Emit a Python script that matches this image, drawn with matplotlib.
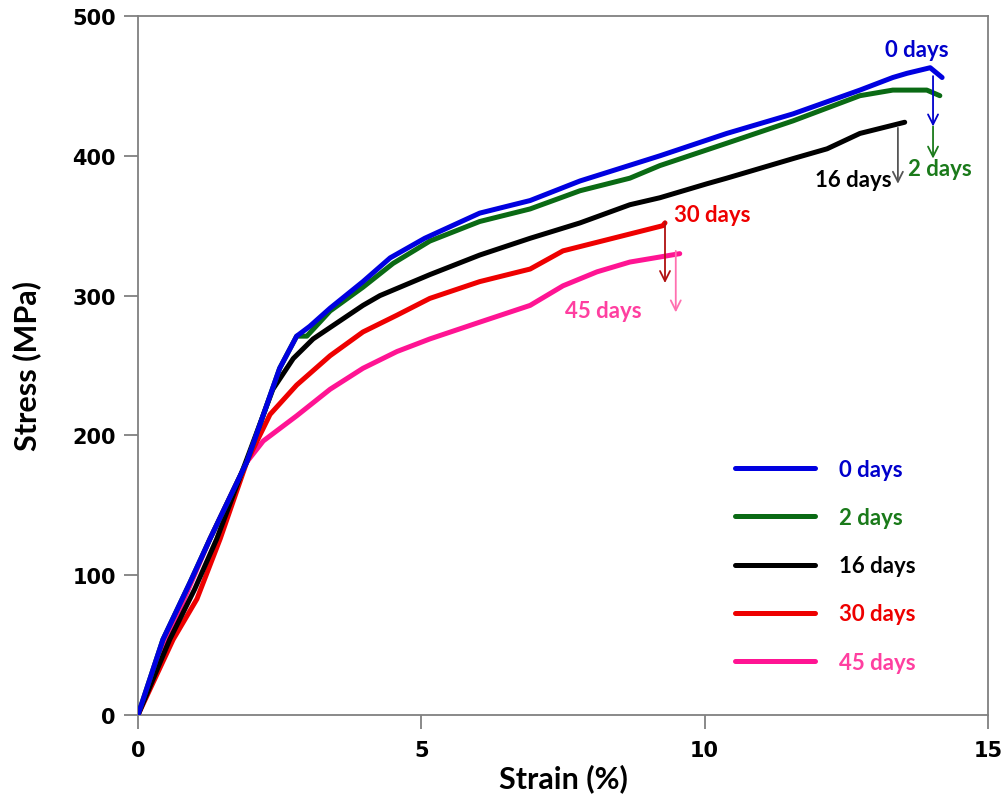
import matplotlib
matplotlib.use("Agg")
import matplotlib.pyplot as plt

# stress-strain curves (strain %, stress MPa)
strain_0d = [0, 0.44, 0.92, 1.27, 1.92, 2.5, 2.8, 3.03, 3.39, 3.97, 4.45, 5.06, 6.03,
             6.92, 7.8, 9.21, 10.39, 11.56, 12.74, 13.32, 13.57, 13.98, 14.1, 14.19]
stress_0d = [0, 54, 95, 126, 181, 248, 271, 278, 291, 310, 327, 341, 359,
             368, 382, 400, 416, 430, 447, 456, 459, 463, 459, 456]

strain_2d = [0, 0.44, 0.92, 1.27, 1.92, 2.5, 2.8, 2.98, 3.39, 3.97, 4.5, 5.15, 6.03,
             6.92, 7.8, 8.68, 9.21, 10.39, 11.56, 12.74, 13.32, 13.92, 14.15]
stress_2d = [0, 54, 95, 126, 181, 248, 271, 271, 289, 306, 323, 339, 353,
             362, 375, 384, 393, 409, 425, 443, 447, 447, 443]

strain_16d = [0, 0.56, 1.0, 1.39, 1.92, 2.38, 2.74, 3.09, 3.97, 4.27, 5.15, 6.03, 6.92,
              7.8, 8.68, 9.21, 10.04, 10.39, 11.56, 12.16, 12.74, 13.53]
stress_16d = [0, 54, 90, 126, 183, 233, 255, 269, 293, 300, 315, 329, 341,
              352, 365, 370, 380, 384, 398, 405, 416, 424]

strain_30d = [0, 0.62, 1.04, 1.45, 1.92, 2.33, 2.8, 3.39, 3.97, 4.57, 5.15, 6.03, 6.92,
              7.5, 8.38, 9.26, 9.3]
stress_30d = [0, 54, 83, 126, 181, 215, 236, 257, 274, 286, 298, 310, 319,
              332, 341, 350, 352]

strain_45d = [0, 0.51, 1.27, 1.92, 2.21, 2.8, 3.39, 3.97, 4.57, 5.15, 6.03, 6.92,
              7.5, 8.1, 8.68, 9.56]
stress_45d = [0, 54, 126, 181, 196, 214, 233, 248, 260, 269, 281, 293,
              307, 317, 324, 330]

labels = ["0 days", "2 days", "16 days", "30 days", "45 days"]
line_colors = ["#0000e0", "#0a6a14", "#000000", "#ee0000", "#ff1493"]
text_colors = ["#0000cc", "#1a7a1a", "#000000", "#ee0000", "#ff3fa0"]
arrow_colors = ["#0000cc", "#1a7a1a", "#555555", "#b01010", "#ff70b0"]

# failure arrows: (strain, stress start, stress end) and label positions
arrow_x = [14.03, 14.03, 13.41, 9.3, 9.49]
arrow_top = [457, 421, 420, 353, 332]
arrow_bottom = [421, 398, 380, 309, 288]
label_x = [13.75, 14.15, 13.3, 9.45, 8.22]
label_y = [476, 391, 383, 358, 289]
label_ha = ["center", "center", "right", "left", "center"]

curves = [(strain_0d, stress_0d), (strain_2d, stress_2d), (strain_16d, stress_16d),
          (strain_30d, stress_30d), (strain_45d, stress_45d)]

fig = plt.figure(figsize=(10.05, 8.04), dpi=100)
ax = fig.add_axes([138 / 1005, 1 - 716 / 804, 850 / 1005, 699 / 804])

# draw the later-aged curves first so blue ends up on top where they overlap
for i in [4, 3, 2, 1, 0]:
    x, y = curves[i]
    ax.plot(x, y, color=line_colors[i], lw=3.6, solid_capstyle="round",
            solid_joinstyle="round", label=labels[i], zorder=3 + (5 - i) * 0.1)

for i in range(5):
    ax.annotate("", xy=(arrow_x[i], arrow_bottom[i]), xytext=(arrow_x[i], arrow_top[i]),
                arrowprops=dict(arrowstyle="->", color=arrow_colors[i], lw=1.3,
                                mutation_scale=18, shrinkA=0, shrinkB=0), zorder=4)
    ax.text(label_x[i], label_y[i], labels[i], color=text_colors[i], ha=label_ha[i],
            va="center", fontsize=16, fontweight="bold", family="Lato", zorder=5)

ax.set_xlim(0, 15)
ax.set_ylim(0, 500)
ax.set_xticks([0, 5, 10, 15])
ax.set_yticks([0, 100, 200, 300, 400, 500])

for s in ax.spines.values():
    s.set_color("#808080")
    s.set_linewidth(1.3)
ax.tick_params(direction="out", length=10, width=1.3, color="#808080", pad=6)
ax.tick_params(axis="x", pad=8)
for lab in ax.get_xticklabels() + ax.get_yticklabels():
    lab.set_fontsize(15)
    lab.set_fontweight("heavy")
    lab.set_family("DejaVu Sans")

ax.set_xlabel("Strain (%)", fontsize=22, fontweight="bold", family="Lato", labelpad=2)
ax.set_ylabel("Stress (MPa)", fontsize=22, fontweight="bold", family="Lato", labelpad=22)

handles, leg_labels = ax.get_legend_handles_labels()
order = [leg_labels.index(l) for l in labels]
leg = ax.legend([handles[k] for k in order], labels, loc="upper left",
                bbox_to_anchor=(0.702, 0.366), frameon=False, borderpad=0,
                borderaxespad=0, handlelength=3.6, handletextpad=1.1,
                labelspacing=1.22, labelcolor=text_colors,
                prop=dict(family="Lato", weight="bold", size=16))

fig.savefig("out.png", dpi=100)
